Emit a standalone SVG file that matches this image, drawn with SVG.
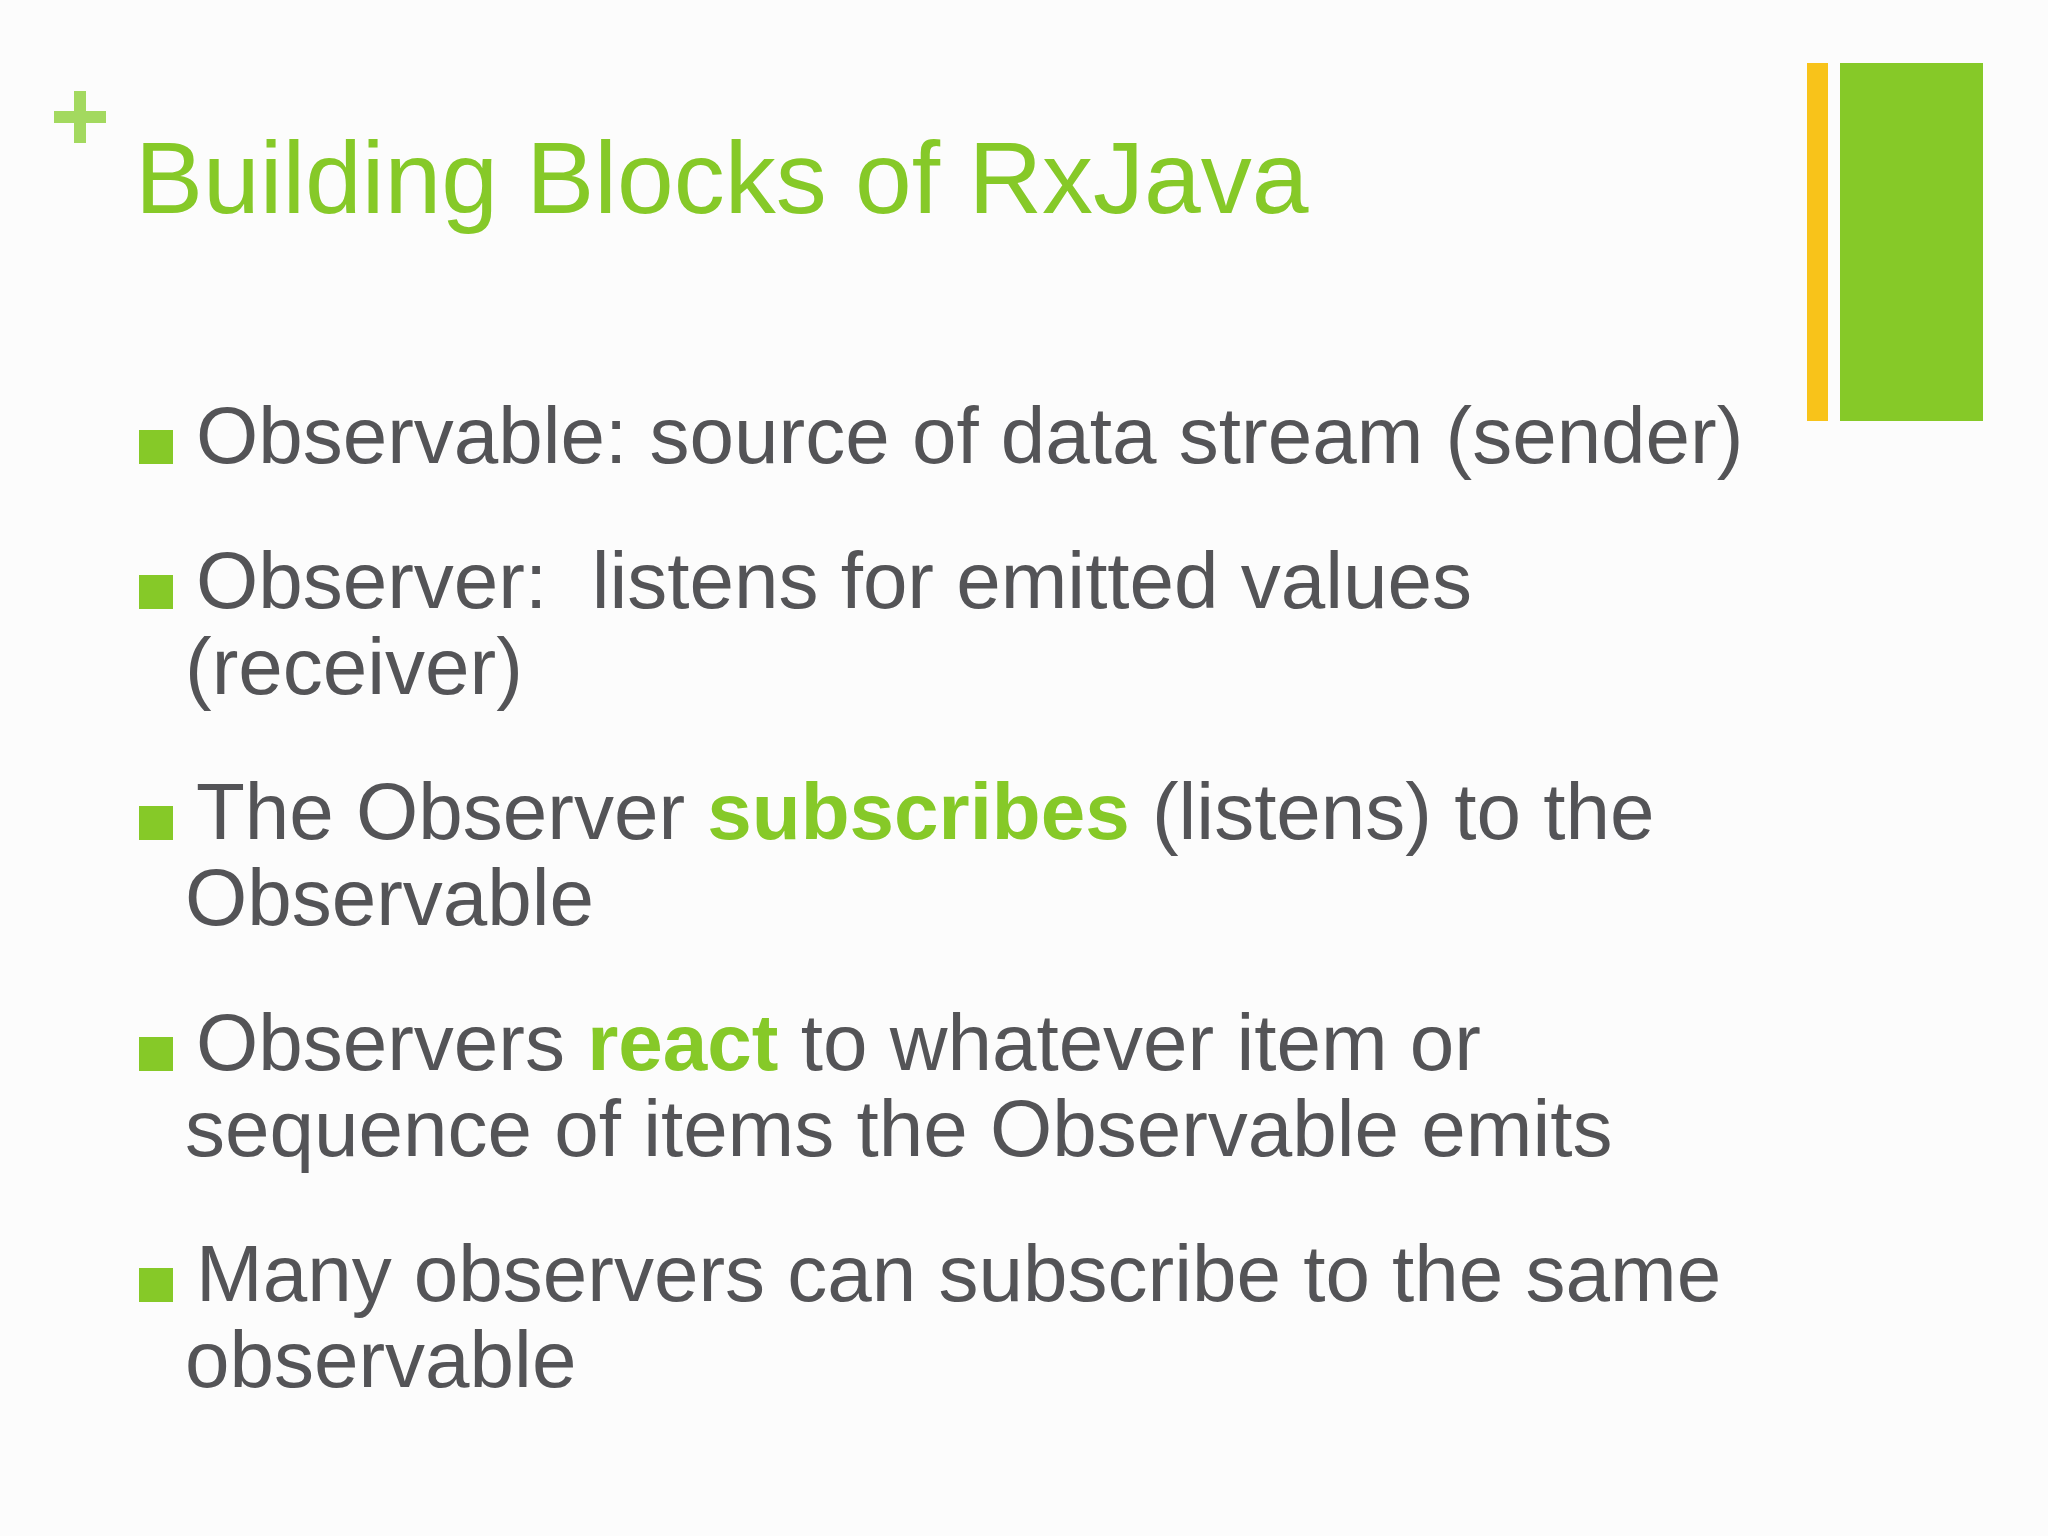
<svg xmlns="http://www.w3.org/2000/svg" width="2048" height="1536" viewBox="0 0 2048 1536">
<style>
.t{font-family:"Liberation Sans",Arial,sans-serif;font-size:80px;fill:#545457}
.g{fill:#86c928;font-weight:bold}
.b{fill:#86c928}
</style>
<rect width="2048" height="1536" fill="#fcfcfc"/>
<g id="decor">
<path d="M80 91v52M54 117h52" stroke="#a3d95f" stroke-width="12"/>
<rect x="1807" y="63" width="21" height="358" fill="#f8c31a"/>
<rect x="1840" y="63" width="143" height="358" fill="#86c928"/>
</g>
<text id="title" x="135" y="213" font-family="Liberation Sans,Arial,sans-serif" font-size="102" fill="#86c928">Building Blocks of RxJava</text>
<g id="b1"><rect class="b" x="139" y="430" width="34" height="34"/><text class="t" x="196" y="463">Observable: source of data stream (sender)</text></g>
<g id="b2"><rect class="b" x="139" y="575" width="34" height="34"/><text class="t" x="196" y="608">Observer:&#160; listens for emitted values</text><text class="t" x="185" y="694">(receiver)</text></g>
<g id="b3"><rect class="b" x="139" y="806" width="34" height="34"/><text class="t" x="196" y="839">The Observer <tspan class="g">subscribes</tspan> (listens) to the</text><text class="t" x="185" y="925">Observable</text></g>
<g id="b4"><rect class="b" x="139" y="1037" width="34" height="34"/><text class="t" x="196" y="1070">Observers <tspan class="g">react</tspan> to whatever item or</text><text class="t" x="185" y="1156">sequence of items the Observable emits</text></g>
<g id="b5"><rect class="b" x="139" y="1268" width="34" height="34"/><text class="t" x="196" y="1301">Many observers can subscribe to the same</text><text class="t" x="185" y="1387">observable</text></g>
</svg>
